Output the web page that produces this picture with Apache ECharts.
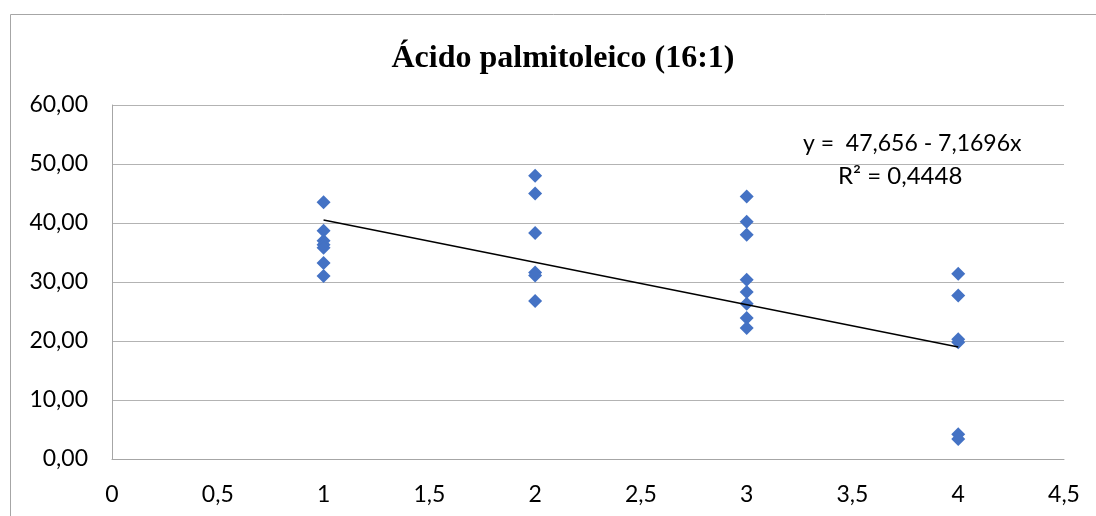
<!DOCTYPE html>
<html>
<head>
<meta charset="utf-8">
<script src="https://cdn.jsdelivr.net/npm/echarts@6/dist/echarts.min.js"></script>
<style>
  html, body { margin: 0; padding: 0; background: #fff; }
  #chart { width: 1096px; height: 516px; }
</style>
</head>
<body>
<div id="chart"></div>
<script>
// groups on the x axis and the values
const xGroups = [1, 2, 3, 4];
const valuesG1 = [43.5, 38.7, 37.0, 36.3, 35.8, 33.2, 31.0];
const valuesG2 = [48.0, 45.0, 38.3, 31.6, 31.1, 26.8];
const valuesG3 = [44.5, 40.2, 38.0, 30.4, 28.3, 26.3, 23.9, 22.2];
const valuesG4 = [31.4, 27.7, 20.3, 19.8, 4.2, 3.4];
// linear trend line ends (from y = 47,656 - 7,1696x)
const trendX = [1, 4];
const trendY = [40.49, 18.98];
const equationLabel = 'y =  47,656 - 7,1696x';
const r2Label = 'R² = 0,4448';
const titleText = 'Ácido palmitoleico (16:1)';

const groups = [valuesG1, valuesG2, valuesG3, valuesG4];
const points = [];
groups.forEach((vals, i) => vals.forEach(v => points.push([xGroups[i], v])));
const trend = trendX.map((x, i) => [x, trendY[i]]);

const font = 'Lato, "Open Sans", sans-serif';
const chart = echarts.init(document.getElementById('chart'));
chart.setOption({
  animation: false,
  title: {
    text: titleText,
    left: 558, top: 38, textAlign: 'center',
    textStyle: { fontFamily: '"Liberation Serif", "Times New Roman", serif', fontSize: 32, fontWeight: 'bold', color: '#000' }
  },
  grid: { left: 112, top: 105, width: 952, height: 354 },
  xAxis: {
    type: 'value', min: 0, max: 4.5, interval: 0.5,
    axisLine: { show: true, lineStyle: { color: '#a6a6a6' } },
    axisTick: { show: false },
    splitLine: { show: false },
    axisLabel: {
      color: '#000', fontSize: 23, fontFamily: font, margin: 24,
      formatter: v => String(v).replace('.', ',')
    }
  },
  yAxis: {
    type: 'value', min: 0, max: 60, interval: 10,
    axisLine: { show: true, lineStyle: { color: '#a6a6a6' } },
    axisTick: { show: false },
    splitLine: { lineStyle: { color: '#b3b3b3', width: 1 } },
    axisLabel: {
      color: '#000', fontSize: 23, fontFamily: font, margin: 24,
      formatter: v => v.toFixed(2).replace('.', ',')
    }
  },
  series: [
    {
      type: 'line', data: trend, symbol: 'none',
      lineStyle: { color: '#000', width: 1.5 }, z: 3
    },
    {
      type: 'scatter', data: points, symbol: 'diamond', symbolSize: 14,
      itemStyle: { color: '#4472c4', opacity: 1 }, z: 2
    }
  ],
  graphic: [
    {
      type: 'rect', silent: true, z: -1,
      shape: { x: 10.5, y: 14.5, width: 1100, height: 520 },
      style: { fill: 'none', stroke: '#a6a6a6', lineWidth: 1 }
    },
    {
      type: 'text', left: 803, top: 132,
      style: { text: equationLabel, fontSize: 23, fontFamily: font, fill: '#000' }
    },
    {
      type: 'text', left: 838, top: 164,
      style: { text: r2Label, fontSize: 24, fontFamily: font, fill: '#000' }
    }
  ]
});
</script>
</body>
</html>
